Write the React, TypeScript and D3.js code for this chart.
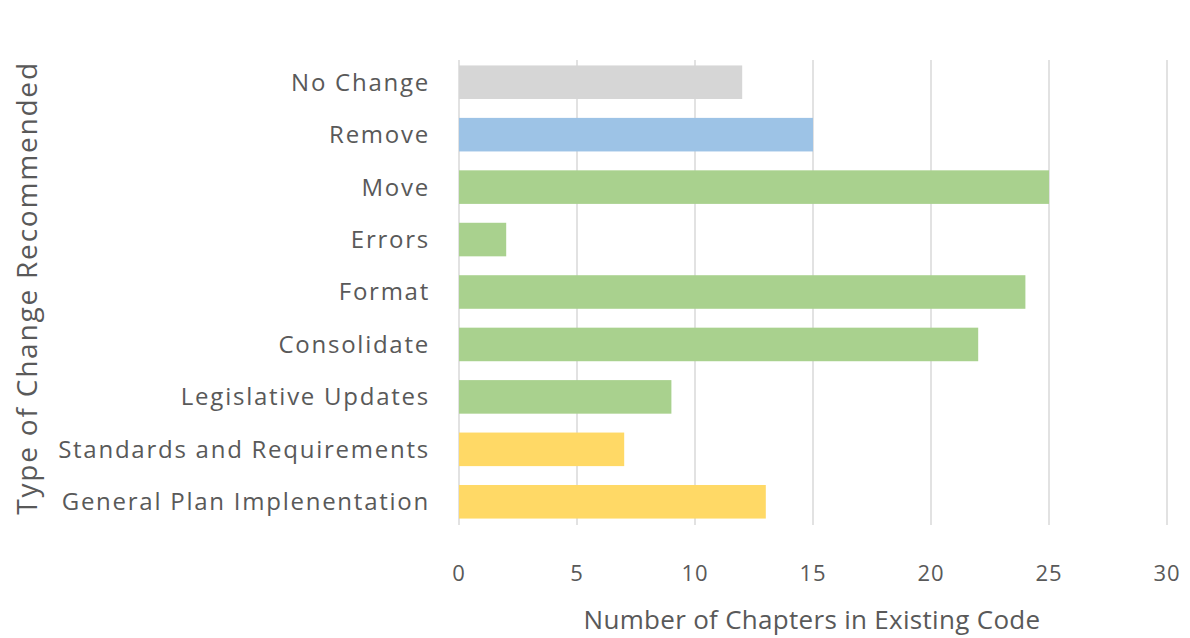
import React from 'react';
import * as d3 from 'd3';

const WIDTH = 1190;
const HEIGHT = 638;

const categories = [
  'No Change',
  'Remove',
  'Move',
  'Errors',
  'Format',
  'Consolidate',
  'Legislative Updates',
  'Standards and Requirements',
  'General Plan Implenentation',
];
const values = [12, 15, 25, 2, 24, 22, 9, 7, 13];
const barColors = ['#d6d6d6', '#9dc3e6', '#a9d18e', '#a9d18e', '#a9d18e', '#a9d18e', '#a9d18e', '#ffd966', '#ffd966'];
const xTicks = [0, 5, 10, 15, 20, 25, 30];

const FONT = '"Open Sans", "DejaVu Sans", sans-serif';
const TEXT = '#595959';

export default function App() {
  const x = d3.scaleLinear().domain([0, 30]).range([459, 1167]);
  const y = d3.scaleBand().domain(categories).range([56, 528]).paddingInner(0.36).paddingOuter(0.18);

  return (
    <svg
      width={WIDTH}
      height={HEIGHT}
      style={{ position: 'absolute', left: 0, top: 0, background: '#fff' }}
      fontFamily={FONT}
    >
      {/* gridlines */}
      {xTicks.map(t => (
        <line key={t} x1={x(t)} x2={x(t)} y1={60} y2={525} stroke="#d9d9d9" strokeWidth={1.5} />
      ))}

      {/* bars */}
      {categories.map((c, i) => (
        <rect
          key={c}
          x={x(0)}
          y={y(c)}
          width={x(values[i]) - x(0)}
          height={y.bandwidth()}
          fill={barColors[i]}
        />
      ))}

      {/* category labels */}
      {categories.map(c => (
        <text
          key={c}
          x={430}
          y={(y(c) ?? 0) + y.bandwidth() / 2}
          dy="0.35em"
          textAnchor="end"
          fontSize={24}
          letterSpacing={1.75}
          fill={TEXT}
        >
          {c}
        </text>
      ))}

      {/* x tick labels */}
      {xTicks.map(t => (
        <text key={t} x={x(t)} y={573} dy="0.35em" textAnchor="middle" fontSize={22} letterSpacing={1} fill={TEXT}>
          {t}
        </text>
      ))}

      <text x={812} y={620} dy="0.35em" textAnchor="middle" fontSize={26} letterSpacing={0.3} fill={TEXT}>
        Number of Chapters in Existing Code
      </text>

      <text
        transform={`translate(27, 288) rotate(-90)`}
        dy="0.35em"
        textAnchor="middle"
        fontSize={28}
        letterSpacing={1.8}
        fill={TEXT}
      >
        Type of Change Recommended
      </text>
    </svg>
  );
}
